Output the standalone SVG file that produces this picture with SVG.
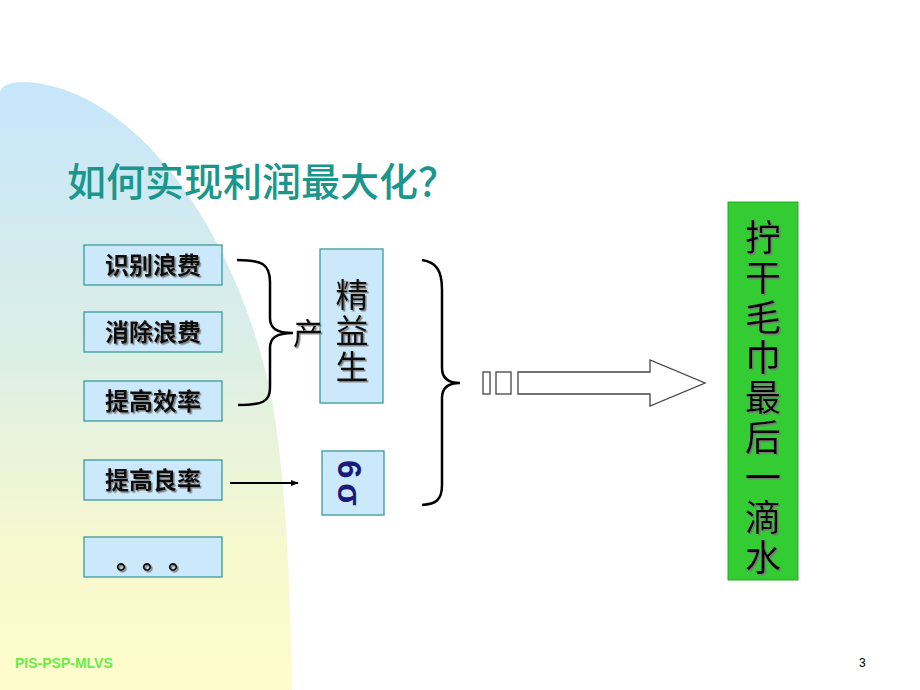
<svg xmlns="http://www.w3.org/2000/svg" width="920" height="690" viewBox="0 0 920 690">
<defs>
<linearGradient id="bg" x1="0" y1="0" x2="0" y2="1">
<stop offset="0" stop-color="#c6e6fb"/>
<stop offset="0.45" stop-color="#dcefe6"/>
<stop offset="0.75" stop-color="#f6f8cf"/>
<stop offset="1" stop-color="#fffccb"/>
</linearGradient>
<filter id="sh" x="-20%" y="-20%" width="140%" height="140%">
<feDropShadow dx="1.5" dy="1.5" stdDeviation="0.4" flood-color="#777" flood-opacity="0.9"/>
</filter>
<marker id="ah" viewBox="0 0 10 10" refX="9" refY="5" markerWidth="8" markerHeight="8" orient="auto" markerUnits="userSpaceOnUse">
<path d="M0,1 L10,5 L0,9 Z" fill="#000"/>
</marker>
<style>
.box{fill:#cce9fb;stroke:#3a9a9a;stroke-width:1.3}
.bt{font-family:"Noto Sans CJK SC","Liberation Sans",sans-serif;font-weight:bold;font-size:24px;fill:#111;text-anchor:middle;filter:url(#sh)}
.vert{font-family:"Noto Sans CJK SC","Liberation Sans",sans-serif;writing-mode:vertical-rl;text-orientation:upright;filter:url(#sh)}
.dot{font-family:"Noto Sans CJK SC",sans-serif;font-size:26px;font-weight:bold;fill:#111;text-anchor:middle;filter:url(#sh)}
.br{fill:none;stroke:#000;stroke-width:2.5}
</style>
</defs>
<rect width="920" height="690" fill="#fff"/>
<path d="M0,92 Q2,82 25,82 C140,88 240,240 272,400 C284,470 290,560 292,690 L0,690 Z" fill="url(#bg)"/>
<text x="67" y="196" font-family="Noto Sans CJK SC, Liberation Sans, sans-serif" font-size="39" font-weight="500" fill="#1a968c">如何实现利润最大化？</text>

<g id="n1"><rect class="box" x="84" y="245" width="138" height="40"/><text class="bt" x="153" y="274">识别浪费</text></g>
<g id="n2"><rect class="box" x="84" y="312" width="138" height="40"/><text class="bt" x="153" y="341">消除浪费</text></g>
<g id="n3"><rect class="box" x="84" y="381" width="138" height="40"/><text class="bt" x="153" y="410">提高效率</text></g>
<g id="n4"><rect class="box" x="84" y="460" width="138" height="40"/><text class="bt" x="153" y="489">提高良率</text></g>
<g id="n5"><rect class="box" x="84" y="537" width="138" height="40"/>
<text class="dot" x="129" y="569">。</text><text class="dot" x="155" y="569">。</text><text class="dot" x="181" y="569">。</text></g>

<g id="n6"><rect class="box" x="320" y="249" width="63" height="154"/>
<text class="vert" x="352" y="278" font-size="33" letter-spacing="3" fill="#111">精益生</text></g>
<g id="n7"><text x="293" y="344" font-family="Noto Sans CJK SC, sans-serif" font-size="30" fill="#111" filter="url(#sh)">产</text></g>
<g id="n8"><rect class="box" x="322" y="451" width="62" height="64"/>
<text x="0" y="0" transform="translate(338,460) rotate(90)" font-family="Liberation Sans, sans-serif" font-size="33" font-weight="bold" letter-spacing="5" fill="#1a1a7a">6σ</text></g>

<g id="n9"><rect x="728" y="202" width="70" height="378" fill="#33cc33" stroke="#2aa82a" stroke-width="1"/>
<text class="vert" x="763" y="219" font-size="36" letter-spacing="4" fill="#000">拧干毛巾最后一滴水</text></g>

<g id="connectors">
<path class="br" d="M237,260 C262,260 270,264 270,282 L270,318 C270,328 276,333 293,333 C276,333 270,338 270,348 L270,388 C270,402 262,405 238,405"/>
<path class="br" d="M422,260 C436,262 442,270 442,290 L442,368 C442,378 448,383 460,383 C448,383 442,388 442,398 L442,485 C442,500 436,504 422,505"/>
<line x1="230" y1="483" x2="298" y2="483" stroke="#000" stroke-width="2" marker-end="url(#ah)"/>
<g fill="#fff" stroke="#444" stroke-width="1.3">
<rect x="483" y="372" width="7" height="22"/>
<rect x="496" y="372" width="15" height="22"/>
<path d="M518,372 L650,372 L650,360 L705,383 L650,406 L650,394 L518,394 Z"/>
</g>
</g>

<text x="15" y="668" font-family="Liberation Sans, sans-serif" font-size="14" font-weight="bold" fill="#66ee44">PIS-PSP-MLVS</text>
<text x="859" y="667" font-family="Liberation Sans, sans-serif" font-size="12" fill="#000">3</text>
</svg>
